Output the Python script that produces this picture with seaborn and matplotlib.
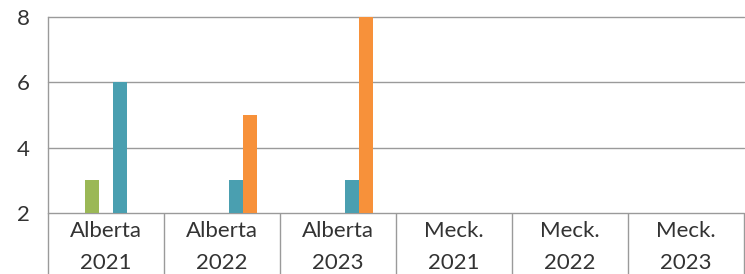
import matplotlib
matplotlib.use("Agg")
import matplotlib.pyplot as plt
import seaborn as sns
import pandas as pd

categories = ["Alberta\n2021", "Alberta\n2022", "Alberta\n2023", "Meck.\n2021", "Meck.\n2022", "Meck.\n2023"]
series_names = ["S1", "S2", "S3", "S4", "S5"]
s1 = [0, 0, 0, 0, 0, 0]
s2 = [3, 0, 0, 0, 0, 0]
s3 = [0, 0, 0, 0, 0, 0]
s4 = [6, 3, 3, 0, 0, 0]
s5 = [0, 5, 8, 0, 0, 0]
y_ticks = [2, 4, 6, 8]

colors = ["#C0504D", "#9BB856", "#8064A2", "#4A9FB0", "#F7913A"]

rows = []
for name, vals in zip(series_names, [s1, s2, s3, s4, s5]):
    for c, v in zip(categories, vals):
        rows.append({"cat": c, "series": name, "value": v})
df = pd.DataFrame(rows)

sns.set_style("white")
plt.rcParams['font.family'] = ['Lato', 'DejaVu Sans']

fig = plt.figure(figsize=(7.45, 2.74), dpi=100)
ax = fig.add_axes([48/745, 61/274, 696/745, 196/274])

sns.barplot(data=df, x="cat", y="value", hue="series", order=categories,
            hue_order=series_names, palette=colors, width=0.6, gap=0,
            saturation=1, legend=False, ax=ax, linewidth=0, zorder=3)

ax.set_ylim(2, 8)
ax.set_xlim(-0.5, len(categories) - 0.5)
ax.set_yticks(y_ticks)
ax.yaxis.grid(True, color="#9a9a9a", linewidth=1, zorder=0)
for gl in ax.yaxis.get_gridlines():
    gl.set_clip_on(False)
ax.set_axisbelow(True)
for s in ["top", "right", "bottom"]:
    ax.spines[s].set_visible(False)
ax.spines["left"].set_color("#9a9a9a")
ax.spines["left"].set_linewidth(1)

ax.set_xlabel("")
ax.set_ylabel("")
ax.tick_params(axis="y", left=False, length=0, labelsize=16, labelcolor="#333333", pad=13)
ax.tick_params(axis="x", which="major", bottom=True, length=0, labelsize=16, labelcolor="#333333", pad=6)
for lbl in ax.get_xticklabels():
    lbl.set_linespacing(1.72)

# category separators extending below the axis
bounds = [i - 0.5 for i in range(len(categories) + 1)]
ax.set_xticks(bounds, minor=True)
ax.tick_params(axis="x", which="minor", bottom=True, length=45, width=1, color="#9a9a9a", direction="out")

fig.savefig("out.png", dpi=100)
